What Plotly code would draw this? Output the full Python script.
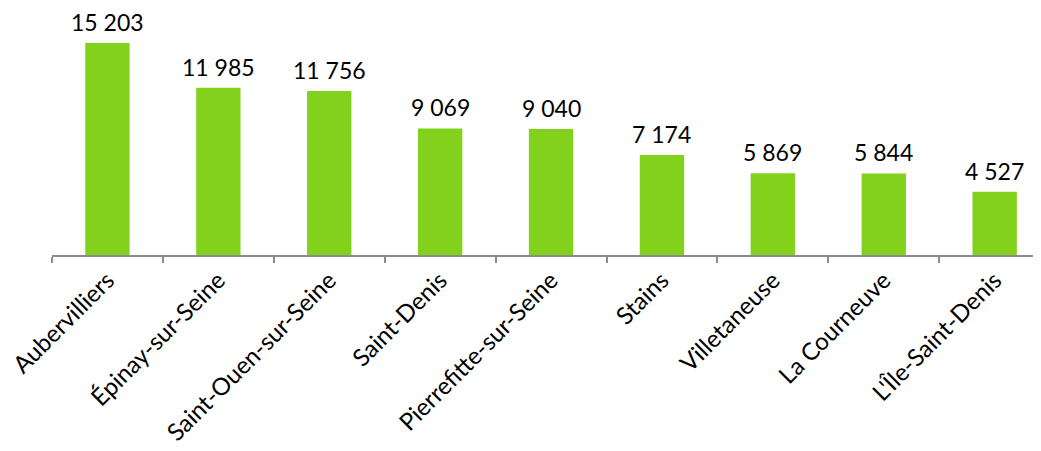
import plotly.graph_objects as go

communes = ["Aubervilliers", "Épinay-sur-Seine", "Saint-Ouen-sur-Seine", "Saint-Denis",
            "Pierrefitte-sur-Seine", "Stains", "Villetaneuse", "La Courneuve", "L'Île-Saint-Denis"]
values = [15203, 11985, 11756, 9069, 9040, 7174, 5869, 5844, 4527]

font_family = "Lato, Carlito, Calibri, sans-serif"

fig = go.Figure(go.Bar(
    x=communes, y=values,
    marker=dict(color="#82D21D", line=dict(width=0)),
    width=0.4,
    hoverinfo="x+y",
))

for c, v in zip(communes, values):
    fig.add_annotation(
        x=c, y=v, text=f"{v:,}".replace(",", " "),
        showarrow=False, yanchor="bottom", yshift=5,
        font=dict(size=23, color="#000000", family=font_family),
    )

fig.update_layout(
    width=1041, height=451,
    margin=dict(l=44, r=0, t=2, b=204),
    paper_bgcolor="white", plot_bgcolor="white",
    showlegend=False,
    font=dict(family=font_family, size=23, color="#000000"),
)
fig.update_xaxes(
    range=[-0.5, 8.49], automargin=False,
    showline=True, linecolor="#8C8C8C", linewidth=1.5,
    ticks="outside", tickson="boundaries", ticklen=6, tickcolor="#8C8C8C", tickwidth=1.5,
    tickangle=-45, tickfont=dict(size=24, family=font_family, color="#000000"),
    showgrid=False,
)
fig.update_yaxes(
    range=[0, 245 / 0.01395], automargin=False,
    visible=False, showgrid=False, zeroline=False,
)

fig.write_html("out.html")
